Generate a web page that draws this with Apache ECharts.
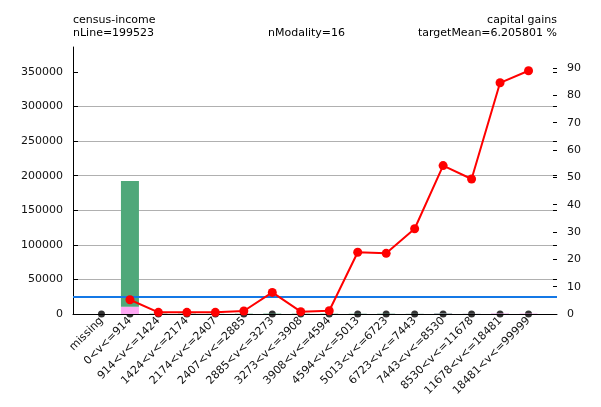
<!DOCTYPE html>
<html><head><meta charset="utf-8">
<script src="https://cdn.jsdelivr.net/npm/echarts@6/dist/echarts.min.js"></script>
<style>html,body{margin:0;padding:0;background:#fff}#c{width:601px;height:407px}</style>
</head><body><div id="c"></div>
<script>
const categories = ['missing','0<v<=914','914<v<=1424','1424<v<=2174','2174<v<=2407','2407<v<=2885','2885<v<=3273','3273<v<=3908','3908<v<=4594','4594<v<=5013','5013<v<=6723','6723<v<=7443','7443<v<=8530','8530<v<=11678','11678<v<=18481','18481<v<=99999'];
const countTarget1 = [0, 10560, 3, 2, 1, 5, 47, 4, 5, 113, 122, 109, 702, 198, 761, 623];
const countTarget0 = [0, 181800, 497, 448, 249, 445, 553, 446, 445, 387, 428, 241, 598, 202, 139, 77];
const targetRate = [null, 5.2, 0.6, 0.6, 0.6, 1.1, 7.9, 0.85, 1.2, 22.6, 22.2, 31.2, 54.3, 49.4, 84.6, 89.0];
const zeroMarks = [0, 0, 0, 0, 0, 0, 0, 0, 0, 0, 0, 0, 0, 0, 0, 0];
const targetMean = 6.205801;
const leftTicks = [0, 50000, 100000, 150000, 200000, 250000, 300000, 350000];
const rightTicks = [0, 10, 20, 30, 40, 50, 60, 70, 80, 90];

const FONT = 'DejaVu Sans';
const pad = arr => [null].concat(arr, [null]);
const chart = echarts.init(document.getElementById('c'), null, {renderer: 'canvas'});
const option = {
  animation: false,
  grid: {left: 73, right: 44, top: 47, bottom: 93},
  graphic: [
    {type: 'text', left: 73, top: 15, style: {text: 'census-income', font: '11px "DejaVu Sans"', fill: '#000'}},
    {type: 'text', left: 73, top: 28, style: {text: 'nLine=199523', font: '11px "DejaVu Sans"', fill: '#000'}},
    {type: 'text', left: 268, top: 28, style: {text: 'nModality=16', font: '11px "DejaVu Sans"', fill: '#000'}},
    {type: 'text', right: 44, top: 15, style: {text: 'capital gains', font: '11px "DejaVu Sans"', fill: '#000'}},
    {type: 'text', right: 44, top: 28, style: {text: 'targetMean=6.205801 %', font: '11px "DejaVu Sans"', fill: '#000'}}
  ],
  xAxis: {
    type: 'category', boundaryGap: false, data: [''].concat(categories, ['']),
    axisLine: {show: true, onZero: false, lineStyle: {color: '#000', width: 1}},
    axisTick: {show: false},
    splitLine: {show: false},
    axisLabel: {rotate: 45, margin: 5, interval: 0, fontFamily: FONT, fontSize: 11, color: '#111'}
  },
  yAxis: [
    {
      type: 'value', min: 0, max: 386000, position: 'left',
      axisLine: {show: true, onZero: false, lineStyle: {color: '#000'}},
      axisTick: {show: true, inside: true, length: 5, lineStyle: {color: '#000'}, customValues: leftTicks},
      axisLabel: {fontFamily: FONT, fontSize: 11, color: '#111', margin: 10, customValues: leftTicks,
        formatter: v => String(v)},
      splitLine: {show: true, showMinLine: false, showMaxLine: false, lineStyle: {color: '#b0b0b0', width: 1}},
      interval: 50000
    },
    {
      type: 'value', min: 0, max: 97.7, interval: 10, position: 'right',
      axisLine: {show: false, onZero: false},
      axisTick: {show: true, inside: true, length: 4, lineStyle: {color: '#000'}, customValues: rightTicks},
      axisLabel: {fontFamily: FONT, fontSize: 11, color: '#111', margin: 10, customValues: rightTicks,
        formatter: v => String(v)},
      splitLine: {show: false}
    },
    {
      type: 'value', min: 0, max: 386000, interval: 50000, position: 'right',
      axisLine: {show: false, onZero: false},
      axisTick: {show: true, inside: true, length: 4, lineStyle: {color: '#000'}, customValues: leftTicks.slice(1)},
      axisLabel: {show: false},
      splitLine: {show: false}
    }
  ],
  series: [
    {
      type: 'scatter', yAxisIndex: 1, z: 1, symbol: 'circle', symbolSize: 7,
      itemStyle: {color: '#000'}, silent: true,
      data: pad(zeroMarks)
    },
    {
      type: 'bar', name: 'target1', stack: 'cnt', yAxisIndex: 0, barWidth: 18, z: 2,
      itemStyle: {color: '#ffa8f4'},
      data: pad(countTarget1)
    },
    {
      type: 'bar', name: 'target0', stack: 'cnt', yAxisIndex: 0, barWidth: 18, z: 2,
      itemStyle: {color: '#4fa87a'},
      data: pad(countTarget0)
    },
    {
      type: 'line', yAxisIndex: 1, z: 5, symbol: 'circle', symbolSize: 9, showSymbol: true,
      connectNulls: false,
      lineStyle: {color: '#ff0000', width: 2}, itemStyle: {color: '#ff0000'},
      data: pad(targetRate),
      markLine: {
        silent: true, symbol: 'none', z: 4,
        label: {show: false},
        lineStyle: {color: '#1478e6', width: 2, type: 'solid'},
        data: [{yAxis: targetMean}]
      }
    }
  ]
};
chart.setOption(option);
</script>
</body></html>
